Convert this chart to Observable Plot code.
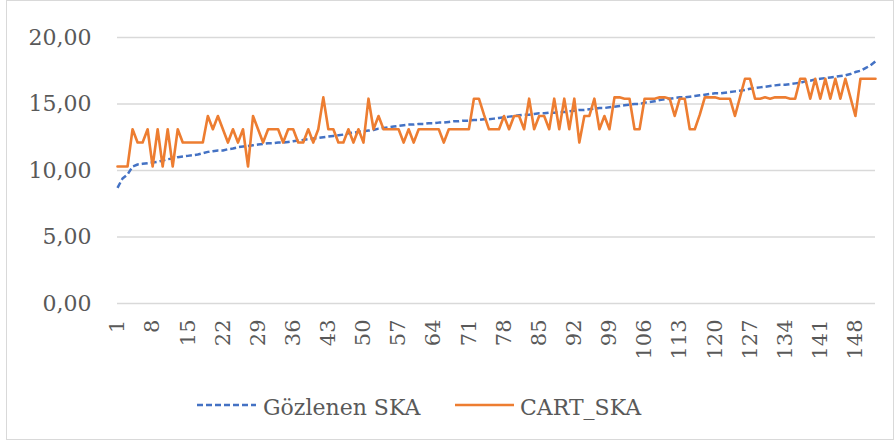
<!DOCTYPE html>
<html><head><meta charset="utf-8">
<script src="https://cdn.jsdelivr.net/npm/d3@7"></script>
<script src="https://cdn.jsdelivr.net/npm/@observablehq/plot@0.6"></script>
<style>
html,body{margin:0;padding:0;background:#fff;overflow:hidden;}
#wrap{position:relative;width:895px;height:441px;font-family:"DejaVu Serif",serif;color:#595959;}
#wrap svg{display:block}
#frame{position:absolute;left:6px;top:0;width:888px;height:440px;border:1px solid #d9d9d9;box-sizing:border-box;pointer-events:none}
</style>
</head><body>
<div id="wrap"><div id="chart"></div><div id="legend"></div><div id="frame"></div></div>
<script>
const seriesNames = ["Gözlenen SKA", "CART_SKA"];
const xTicks = [1, 8, 15, 22, 29, 36, 43, 50, 57, 64, 71, 78, 85, 92, 99, 106, 113, 120, 127, 134, 141, 148];
const yTicks = [0, 5, 10, 15, 20];

const observed = [
  8.70, 9.40, 9.70, 10.30, 10.45, 10.50, 10.55, 10.60, 10.65, 10.75,
  10.85, 10.90, 11.00, 11.05, 11.10, 11.15, 11.20, 11.30, 11.40, 11.45,
  11.50, 11.50, 11.60, 11.65, 11.75, 11.80, 11.85, 11.90, 11.95, 12.00,
  12.05, 12.05, 12.10, 12.10, 12.15, 12.20, 12.25, 12.30, 12.35, 12.40,
  12.45, 12.50, 12.55, 12.60, 12.65, 12.70, 12.80, 12.85, 12.90, 12.95,
  13.00, 13.05, 13.15, 13.20, 13.25, 13.30, 13.35, 13.40, 13.45, 13.45,
  13.50, 13.50, 13.55, 13.55, 13.60, 13.60, 13.65, 13.70, 13.70, 13.75,
  13.75, 13.80, 13.80, 13.85, 13.85, 13.90, 13.95, 14.00, 14.05, 14.10,
  14.15, 14.20, 14.20, 14.25, 14.30, 14.30, 14.35, 14.35, 14.40, 14.40,
  14.45, 14.50, 14.55, 14.55, 14.60, 14.65, 14.70, 14.70, 14.75, 14.80,
  14.85, 14.90, 14.95, 15.00, 15.00, 15.10, 15.15, 15.20, 15.30, 15.35,
  15.40, 15.45, 15.50, 15.50, 15.55, 15.60, 15.65, 15.70, 15.75, 15.80,
  15.80, 15.85, 15.90, 15.95, 16.00, 16.05, 16.15, 16.20, 16.25, 16.30,
  16.35, 16.40, 16.45, 16.45, 16.50, 16.55, 16.60, 16.70, 16.75, 16.85,
  16.90, 16.95, 17.00, 17.05, 17.10, 17.15, 17.25, 17.40, 17.50, 17.70,
  17.90, 18.20
];

const cart = [
  10.3, 10.3, 10.3, 13.1, 12.1, 12.1, 13.1, 10.3, 13.1, 10.3,
  13.1, 10.3, 13.1, 12.1, 12.1, 12.1, 12.1, 12.1, 14.1, 13.1,
  14.1, 13.1, 12.1, 13.1, 12.1, 13.1, 10.3, 14.1, 13.1, 12.1,
  13.1, 13.1, 13.1, 12.1, 13.1, 13.1, 12.1, 12.1, 13.1, 12.1,
  13.1, 15.5, 13.1, 13.1, 12.1, 12.1, 13.1, 12.1, 13.1, 12.1,
  15.4, 13.1, 14.1, 13.1, 13.1, 13.1, 13.1, 12.1, 13.1, 12.1,
  13.1, 13.1, 13.1, 13.1, 13.1, 12.1, 13.1, 13.1, 13.1, 13.1,
  13.1, 15.4, 15.4, 14.2, 13.1, 13.1, 13.1, 14.1, 13.1, 14.1,
  14.1, 13.1, 15.4, 13.1, 14.1, 14.1, 13.1, 15.4, 13.1, 15.4,
  13.1, 15.4, 12.1, 14.1, 14.1, 15.4, 13.1, 14.1, 13.1, 15.5,
  15.5, 15.4, 15.4, 13.1, 13.1, 15.4, 15.4, 15.4, 15.5, 15.5,
  15.4, 14.1, 15.4, 15.4, 13.1, 13.1, 14.2, 15.5, 15.5, 15.5,
  15.4, 15.4, 15.4, 14.1, 15.5, 16.9, 16.9, 15.4, 15.4, 15.5,
  15.4, 15.5, 15.5, 15.5, 15.4, 15.4, 16.9, 16.9, 15.4, 16.9,
  15.4, 16.9, 15.4, 16.9, 15.4, 16.9, 15.5, 14.1, 16.9, 16.9,
  16.9, 16.9
];

const colors = ["#4472c4", "#ed7d31"];
const rows = observed.map((v, k) => ({i: k + 1, obs: v, cart: cart[k]}));

const chart = Plot.plot({
  width: 895,
  height: 375,
  marginLeft: 117,
  marginRight: 20,
  marginTop: 37,
  marginBottom: 72,
  style: {fontFamily: "DejaVu Serif", fontSize: "21px", color: "#595959", background: "transparent"},
  x: {type: "linear", domain: [1, rows.length], ticks: xTicks, tickFormat: d => String(d),
      tickRotate: -90, tickSize: 0, tickPadding: 16, label: null},
  y: {domain: [0, 20], ticks: yTicks, tickFormat: d => d.toFixed(2).replace(".", ","),
      tickSize: 0, tickPadding: 26, label: null},
  marks: [
    Plot.ruleY(yTicks, {stroke: "#d9d9d9", strokeWidth: 1.3}),
    Plot.line(rows, {x: "i", y: "obs", stroke: colors[0], strokeWidth: 2.5,
      strokeDasharray: "6,3", strokeLinecap: "butt"}),
    Plot.line(rows, {x: "i", y: "cart", stroke: colors[1], strokeWidth: 2.6})
  ]
});
d3.select(chart).selectAll('[aria-label="y-axis tick label"] text, [aria-label="y-axis"] text').attr("font-size", "22px");
document.getElementById("chart").appendChild(chart);

// legend below the plot
const leg = d3.select("#legend").append("svg").attr("width", 895).attr("height", 66)
  .style("font-family", "DejaVu Serif").style("font-size", "22px");
const items = [
  {x0: 197, tx: 263, dash: "6,3"},
  {x0: 455, tx: 520, dash: null}
];
items.forEach((it, k) => {
  const ln = leg.append("line").attr("x1", it.x0).attr("x2", it.x0 + 59)
    .attr("y1", 30).attr("y2", 30).attr("stroke", colors[k]).attr("stroke-width", 2.5);
  if (it.dash) ln.attr("stroke-dasharray", it.dash);
  leg.append("text").attr("x", it.tx).attr("y", 39.5).attr("fill", "#595959").text(seriesNames[k]);
});
</script>
</body></html>
